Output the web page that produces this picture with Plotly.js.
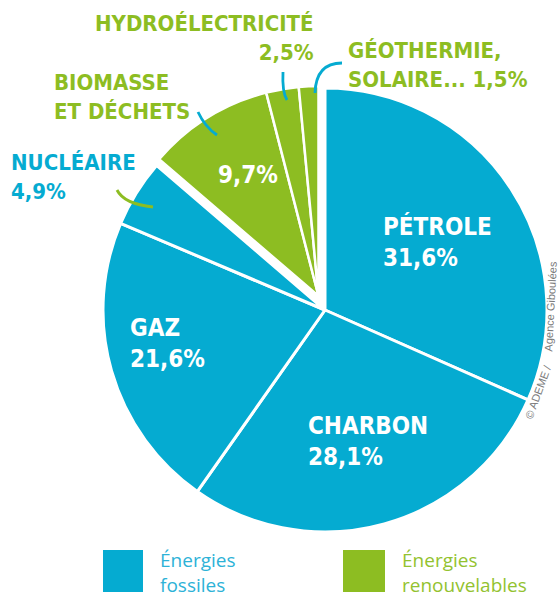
<!DOCTYPE html>
<html>
<head>
<meta charset="utf-8">
<script src="https://cdn.plot.ly/plotly-3.0.1.min.js"></script>
<style>html,body{margin:0;padding:0;background:#fff}#chart{width:560px;height:597px}</style>
</head>
<body>
<div id="chart"></div>
<script>
// ---- data ----
const labels = ['PÉTROLE', 'CHARBON', 'GAZ', 'NUCLÉAIRE', 'BIOMASSE<br>ET DÉCHETS', 'HYDROÉLECTRICITÉ', 'GÉOTHERMIE,<br>SOLAIRE...'];
const values = [31.6, 28.1, 21.6, 4.9, 9.7, 2.5, 1.5];
const groups = ['fossile', 'fossile', 'fossile', 'fossile', 'renouvelable', 'renouvelable', 'renouvelable'];
const legendLabels = ['Énergies<br>fossiles', 'Énergies<br>renouvelables'];
const credit = ['© ADEME /', 'Agence Giboulées'];

const BLUE = '#05abd1';
const GREEN = '#8dbd22';
const CLEAR = 'rgba(0,0,0,0)';
const W = 560, H = 597;
const px = x => x / W;
const py = y => 1 - y / H;
const fmt = v => v.toFixed(1).replace('.', ',') + '%';

const isF = groups.map(g => g === 'fossile');
const fosVals = values.filter((v, i) => isF[i]);
const renVals = values.filter((v, i) => !isF[i]);
const sum = a => a.reduce((s, v) => s + v, 0);

// pie geometry (pixels)
const dom = (cx, cy, R) => ({
  x: [px(cx - R), px(cx + R)],
  y: [py(cy + R), py(cy - R)]
});

const traceF = {
  type: 'pie', sort: false, direction: 'clockwise', rotation: 0,
  values: fosVals.concat([sum(renVals)]),
  labels: labels.filter((l, i) => isF[i]).concat(['_r']),
  marker: { colors: fosVals.map(() => BLUE).concat([CLEAR]),
            line: { color: '#fff', width: fosVals.map(() => 3).concat([0]) } },
  textinfo: 'none', hoverinfo: 'label+value', showlegend: false,
  domain: dom(325, 310, 222)
};
const traceR = {
  type: 'pie', sort: false, direction: 'clockwise', rotation: 0,
  values: [sum(fosVals)].concat(renVals),
  labels: ['_f'].concat(labels.filter((l, i) => !isF[i])),
  marker: { colors: [CLEAR].concat(renVals.map(() => GREEN)),
            line: { color: '#fff', width: [0].concat(renVals.map(() => 2.5)) } },
  textinfo: 'none', hoverinfo: 'label+value', showlegend: false,
  domain: dom(318.5, 296, 210)
};

const LF = '"DejaVu Sans Condensed", "DejaVu Sans", sans-serif';
function ann(text, x, y, color, size, xanchor) {
  return { text: '<b>' + text + '</b>', x: px(x), y: py(y), xref: 'paper', yref: 'paper',
    xanchor: xanchor, yanchor: 'middle', align: xanchor === 'right' ? 'right' : 'left', showarrow: false,
    font: { family: LF, size: size, color: color } };
}
const IS = 24, OS = 22;
const annotations = [
  ann(labels[0] + '<br>' + fmt(values[0]), 381, 242, '#fff', IS, 'left'),
  ann(labels[1] + '<br>' + fmt(values[1]), 306, 441, '#fff', IS, 'left'),
  ann(labels[2] + '<br>' + fmt(values[2]), 128, 343, '#fff', IS, 'left'),
  ann(fmt(values[4]), 248, 175, '#fff', IS, 'center'),
  ann(labels[3] + '<br>' + fmt(values[3]), 9, 177, BLUE, OS, 'left'),
  ann(labels[4], 52, 97, GREEN, OS, 'left'),
  ann(labels[5] + '<br>' + fmt(values[5]), 316, 38, GREEN, OS, 'right'),
  ann(labels[6] + ' ' + fmt(values[6]), 346, 65, GREEN, OS, 'left'),
  { text: credit[0], x: px(538), y: py(392), xref: 'paper', yref: 'paper',
    xanchor: 'center', yanchor: 'middle', showarrow: false, textangle: -70,
    font: { family: 'Liberation Sans, Arial, sans-serif', size: 11, color: '#7a7a7a' } },
  { text: credit[1], x: px(550.5), y: py(307), xref: 'paper', yref: 'paper',
    xanchor: 'center', yanchor: 'middle', showarrow: false, textangle: -87,
    font: { family: 'Liberation Sans, Arial, sans-serif', size: 11, color: '#7a7a7a' } },
  { text: legendLabels[0], x: px(158), y: py(572), xref: 'paper', yref: 'paper',
    xanchor: 'left', yanchor: 'middle', align: 'left', showarrow: false,
    font: { family: '"Open Sans", sans-serif', size: 19, color: '#2db2d7' } },
  { text: legendLabels[1], x: px(400), y: py(572), xref: 'paper', yref: 'paper',
    xanchor: 'left', yanchor: 'middle', align: 'left', showarrow: false,
    font: { family: '"Open Sans", sans-serif', size: 19, color: '#93c22f' } }
];

function curve(x0, y0, qx, qy, x1, y1, color) {
  return { type: 'path', xref: 'paper', yref: 'paper',
    path: `M ${px(x0)},${py(y0)} Q ${px(qx)},${py(qy)} ${px(x1)},${py(y1)}`,
    line: { color: color, width: 2.8 } };
}
const shapes = [
  curve(117, 190, 124, 204, 153, 207, GREEN),
  curve(198, 112, 205, 127, 217, 135, BLUE),
  curve(283, 72, 282, 92, 287, 100, BLUE),
  curve(342, 63, 316, 63, 315, 93, BLUE),
  { type: 'rect', xref: 'paper', yref: 'paper', x0: px(103), x1: px(143), y0: py(592), y1: py(550),
    fillcolor: BLUE, line: { width: 0 } },
  { type: 'rect', xref: 'paper', yref: 'paper', x0: px(343), x1: px(385), y0: py(592), y1: py(550),
    fillcolor: GREEN, line: { width: 0 } }
];

Plotly.newPlot('chart', [traceF, traceR], {
  width: W, height: H, margin: { l: 0, r: 0, t: 0, b: 0 },
  paper_bgcolor: '#fff', plot_bgcolor: '#fff',
  showlegend: false, annotations: annotations, shapes: shapes
}, { displayModeBar: false, staticPlot: true });
</script>
</body>
</html>
